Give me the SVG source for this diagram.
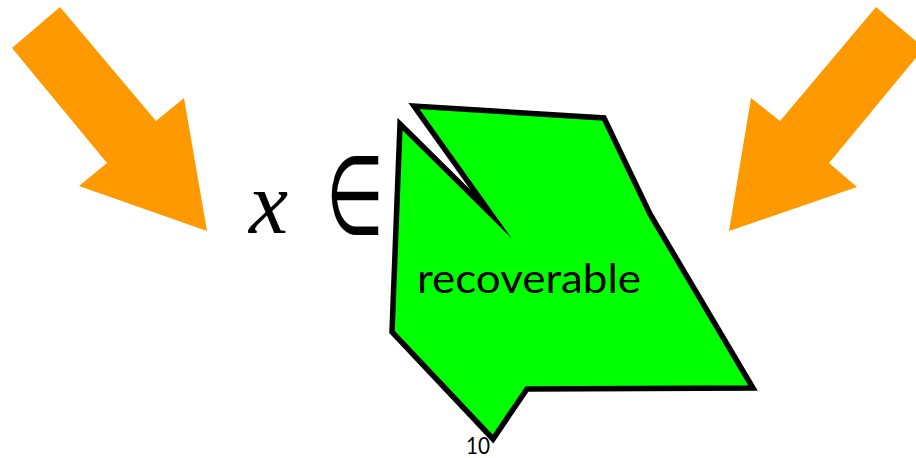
<svg xmlns="http://www.w3.org/2000/svg" width="916" height="458" viewBox="0 0 916 458">
  <style>
    .arrow { fill: #FF9900; stroke: none; }
    .region { fill: #00FF00; stroke: #000000; stroke-width: 5.5; stroke-linejoin: miter; stroke-miterlimit: 20; }
    .label { font-family: "Lato", "Open Sans", "Liberation Sans", sans-serif; fill: #000000; }
    .math { font-family: "Liberation Serif", "DejaVu Serif", serif; fill: #000000; }
    .rel { font-family: "DejaVu Sans", sans-serif; font-weight: 200; fill: #000000; }
  </style>
  <rect width="916" height="458" fill="#ffffff"/>
  <g id="connectors">
    <polygon id="arrow-left" class="arrow" points="60,7 12,48 107,163 79,186 207,231 184,98 156,121"/>
    <polygon id="arrow-right" class="arrow" points="876,7 924,48 829,163 857,187 729,231 751,98 780,121"/>
  </g>
  <g id="membership">
    <text class="math" x="249" y="233" font-size="88" font-style="italic">x</text>
    <text class="rel" x="326" y="234" font-size="110" textLength="58" lengthAdjust="spacingAndGlyphs">∈</text>
  </g>
  <text class="label" x="466" y="454" font-size="23" textLength="24" lengthAdjust="spacingAndGlyphs">10</text>
  <g id="recoverable">
    <polygon class="region" points="400,124 491,214 414,106 604,118 650,214 753,388 527,389 493,439 392,332"/>
    <text class="label" x="417" y="293" font-size="41" textLength="224" lengthAdjust="spacingAndGlyphs">recoverable</text>
  </g>
</svg>
